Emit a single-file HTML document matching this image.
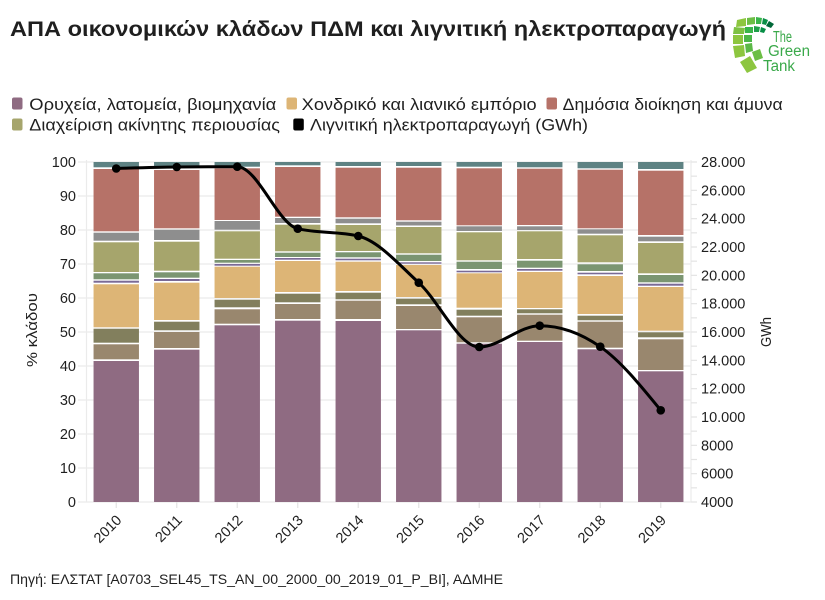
<!DOCTYPE html>
<html>
<head>
<meta charset="utf-8">
<style>
html,body{margin:0;padding:0;background:#fff;}
svg{display:block;}
text{font-family:"Liberation Sans","DejaVu Sans",sans-serif;fill:#1f1f1f;}
.teal{fill:#5e8283}.red{fill:#b67268}.gray{fill:#8e8e8e}.olive{fill:#a6a56c}.green{fill:#7b9571}
.pthin{fill:#7a6a96}.orange{fill:#ddb576}.dolive{fill:#827f5d}.bgray{fill:#99876e}.purple{fill:#8f6b82}
.tl{font-size:14.5px;}
</style>
</head>
<body>
<svg width="825" height="600" viewBox="0 0 825 600" xmlns="http://www.w3.org/2000/svg">
<rect width="825" height="600" fill="#fff"/>

<!-- Title -->
<text x="10" y="36" font-size="21" font-weight="bold" textLength="716" lengthAdjust="spacingAndGlyphs">ΑΠΑ οικονομικών κλάδων ΠΔΜ και λιγνιτική ηλεκτροπαραγωγή</text>

<!-- Logo -->
<g>
<polygon points="740,62 750,56 757,68 747,73" fill="#8dc63f"/>
<polygon points="733,46 744,45 745,56 735,58" fill="#8dc63f"/>
<polygon points="733,35 743,35 743,44 733,44" fill="#8dc63f"/>
<polygon points="734,27 745,28 744,34 733,34" fill="#7dc142"/>
<polygon points="737,20 746,18 746,26 736,27" fill="#8dc63f"/>
<polygon points="747,18 755,17 755,24 747,25" fill="#6cbe45"/>
<polygon points="756,17 762,18 761,24 756,24" fill="#39b54a"/>
<polygon points="763,18 768,20 766,25 762,24" fill="#0a8f46"/>
<polygon points="769,21 774,24 771,28 766,26" fill="#006838"/>
<polygon points="752,52 760,49 763,58 755,61" fill="#6cbe45"/>
<polygon points="745,44 752,43 753,51 746,53" fill="#5cb947"/>
<polygon points="744,35 752,35 752,42 744,42" fill="#4cb748"/>
<polygon points="745,27 753,27 753,33 745,33" fill="#39b54a"/>
<polygon points="754,26 760,27 759,32 754,32" fill="#1fa049"/>
<polygon points="761,27 766,29 764,33 760,32" fill="#068e45"/>
<text x="773" y="42" font-size="15.5" style="fill:#3aa94a" textLength="19" lengthAdjust="spacingAndGlyphs">The</text>
<text x="768" y="56" font-size="15.5" style="fill:#3aa94a" textLength="42" lengthAdjust="spacingAndGlyphs">Green</text>
<text x="763" y="71" font-size="15.5" style="fill:#3aa94a" textLength="32" lengthAdjust="spacingAndGlyphs">Tank</text>
</g>

<!-- Legend -->
<g font-size="16.5">
<rect x="12" y="97.5" width="10.5" height="12" rx="2" class="purple"/>
<text x="29.3" y="110" textLength="247" lengthAdjust="spacingAndGlyphs">Ορυχεία, λατομεία, βιομηχανία</text>
<rect x="286.5" y="97.5" width="10.5" height="12" rx="2" class="orange"/>
<text x="301.7" y="110" textLength="235" lengthAdjust="spacingAndGlyphs">Χονδρικό και λιανικό εμπόριο</text>
<rect x="546.5" y="97.5" width="10.5" height="12" rx="2" class="red"/>
<text x="562.7" y="110" textLength="220" lengthAdjust="spacingAndGlyphs">Δημόσια διοίκηση και άμυνα</text>
<rect x="12" y="118.5" width="10.5" height="12" rx="2" class="olive"/>
<text x="29.3" y="130.5" textLength="250.7" lengthAdjust="spacingAndGlyphs">Διαχείριση ακίνητης περιουσίας</text>
<rect x="293.3" y="118.5" width="10.5" height="12" rx="2" fill="#000"/>
<text x="310" y="130.5" textLength="278" lengthAdjust="spacingAndGlyphs">Λιγνιτική ηλεκτροπαραγωγή (GWh)</text>
</g>

<!-- Gridlines -->
<g stroke="#ebebeb" stroke-width="1.2">
<line x1="78" y1="502" x2="691" y2="502"/>
<line x1="78" y1="468" x2="691" y2="468"/>
<line x1="78" y1="434" x2="691" y2="434"/>
<line x1="78" y1="400" x2="691" y2="400"/>
<line x1="78" y1="366" x2="691" y2="366"/>
<line x1="78" y1="332" x2="691" y2="332"/>
<line x1="78" y1="298" x2="691" y2="298"/>
<line x1="78" y1="264" x2="691" y2="264"/>
<line x1="78" y1="230" x2="691" y2="230"/>
<line x1="78" y1="196" x2="691" y2="196"/>
<line x1="78" y1="162" x2="691" y2="162"/>
<line x1="86.5" y1="160" x2="86.5" y2="502"/>
<line x1="691" y1="160" x2="691" y2="502"/>
</g>
<!-- right ticks -->
<g stroke="#e3e3e3" stroke-width="1.2">
<line x1="691" y1="162" x2="697" y2="162"/><line x1="691" y1="176.17" x2="697" y2="176.17"/>
<line x1="691" y1="190.33" x2="697" y2="190.33"/><line x1="691" y1="204.5" x2="697" y2="204.5"/>
<line x1="691" y1="218.67" x2="697" y2="218.67"/><line x1="691" y1="232.83" x2="697" y2="232.83"/>
<line x1="691" y1="247" x2="697" y2="247"/><line x1="691" y1="261.17" x2="697" y2="261.17"/>
<line x1="691" y1="275.33" x2="697" y2="275.33"/><line x1="691" y1="289.5" x2="697" y2="289.5"/>
<line x1="691" y1="303.67" x2="697" y2="303.67"/><line x1="691" y1="317.83" x2="697" y2="317.83"/>
<line x1="691" y1="332" x2="697" y2="332"/><line x1="691" y1="346.17" x2="697" y2="346.17"/>
<line x1="691" y1="360.33" x2="697" y2="360.33"/><line x1="691" y1="374.5" x2="697" y2="374.5"/>
<line x1="691" y1="388.67" x2="697" y2="388.67"/><line x1="691" y1="402.83" x2="697" y2="402.83"/>
<line x1="691" y1="417" x2="697" y2="417"/><line x1="691" y1="431.17" x2="697" y2="431.17"/>
<line x1="691" y1="445.33" x2="697" y2="445.33"/><line x1="691" y1="459.5" x2="697" y2="459.5"/>
<line x1="691" y1="473.67" x2="697" y2="473.67"/><line x1="691" y1="487.83" x2="697" y2="487.83"/>
<line x1="691" y1="502" x2="697" y2="502"/>
<!-- bottom ticks -->
<line x1="116.25" y1="502" x2="116.25" y2="508"/><line x1="176.75" y1="502" x2="176.75" y2="508"/>
<line x1="237.25" y1="502" x2="237.25" y2="508"/><line x1="297.75" y1="502" x2="297.75" y2="508"/>
<line x1="358.25" y1="502" x2="358.25" y2="508"/><line x1="418.75" y1="502" x2="418.75" y2="508"/>
<line x1="479.25" y1="502" x2="479.25" y2="508"/><line x1="539.75" y1="502" x2="539.75" y2="508"/>
<line x1="600.25" y1="502" x2="600.25" y2="508"/><line x1="660.75" y1="502" x2="660.75" y2="508"/>
</g>

<!-- Bars -->
<g transform="translate(93.55,0)">
<rect class="teal" y="162" width="45.4" height="5.3"/><rect class="red" y="169" width="45.4" height="62.3"/>
<rect class="gray" y="232.7" width="45.4" height="8"/><rect class="olive" y="242.3" width="45.4" height="29.7"/>
<rect class="green" y="273.3" width="45.4" height="6"/><rect class="pthin" y="280.7" width="45.4" height="2"/>
<rect class="orange" y="284.3" width="45.4" height="43"/><rect class="dolive" y="328.7" width="45.4" height="14"/>
<rect class="bgray" y="344.3" width="45.4" height="15"/><rect class="purple" y="361" width="45.4" height="141"/>
</g>
<g transform="translate(154.05,0)">
<rect class="teal" y="162" width="45.4" height="5.3"/><rect class="red" y="170" width="45.4" height="58.3"/>
<rect class="gray" y="229.7" width="45.4" height="10.3"/><rect class="olive" y="241.7" width="45.4" height="29"/>
<rect class="green" y="272.3" width="45.4" height="5.4"/><rect class="pthin" y="279" width="45.4" height="2"/>
<rect class="orange" y="282.7" width="45.4" height="37.3"/><rect class="dolive" y="321.7" width="45.4" height="8.6"/>
<rect class="bgray" y="332" width="45.4" height="16"/><rect class="purple" y="349.7" width="45.4" height="152.3"/>
</g>
<g transform="translate(214.55,0)">
<rect class="teal" y="162" width="45.4" height="4.7"/><rect class="red" y="168.3" width="45.4" height="51.7"/>
<rect class="gray" y="221" width="45.4" height="8.7"/><rect class="olive" y="231.3" width="45.4" height="27.4"/>
<rect class="green" y="260" width="45.4" height="2.7"/><rect class="pthin" y="264" width="45.4" height="1.7"/>
<rect class="orange" y="266.7" width="45.4" height="31.3"/><rect class="dolive" y="299.7" width="45.4" height="7.6"/>
<rect class="bgray" y="309.3" width="45.4" height="14.4"/><rect class="purple" y="325.3" width="45.4" height="176.7"/>
</g>
<g transform="translate(275.05,0)">
<rect class="teal" y="162" width="45.4" height="3.3"/><rect class="red" y="167" width="45.4" height="49.7"/>
<rect class="gray" y="218" width="45.4" height="5"/><rect class="olive" y="224.7" width="45.4" height="26.6"/>
<rect class="green" y="252.7" width="45.4" height="4.3"/><rect class="pthin" y="258" width="45.4" height="1.7"/>
<rect class="orange" y="261" width="45.4" height="31"/><rect class="dolive" y="293.7" width="45.4" height="8.6"/>
<rect class="bgray" y="304" width="45.4" height="15"/><rect class="purple" y="320.7" width="45.4" height="181.3"/>
</g>
<g transform="translate(335.55,0)">
<rect class="teal" y="162" width="45.4" height="4"/><rect class="red" y="167.7" width="45.4" height="49.6"/>
<rect class="gray" y="218.7" width="45.4" height="4.6"/><rect class="olive" y="225" width="45.4" height="26"/>
<rect class="green" y="252.3" width="45.4" height="5"/><rect class="pthin" y="258.7" width="45.4" height="1.6"/>
<rect class="orange" y="261.7" width="45.4" height="29.3"/><rect class="dolive" y="292.7" width="45.4" height="6.6"/>
<rect class="bgray" y="300.7" width="45.4" height="18.3"/><rect class="purple" y="321" width="45.4" height="181"/>
</g>
<g transform="translate(396.05,0)">
<rect class="teal" y="162" width="45.4" height="4"/><rect class="red" y="167.7" width="45.4" height="52.6"/>
<rect class="gray" y="221.7" width="45.4" height="3.8"/><rect class="olive" y="227" width="45.4" height="26.3"/>
<rect class="green" y="254.7" width="45.4" height="6.3"/><rect class="pthin" y="262.3" width="45.4" height="1.4"/>
<rect class="orange" y="265" width="45.4" height="32"/><rect class="dolive" y="298.7" width="45.4" height="5.6"/>
<rect class="bgray" y="306" width="45.4" height="23"/><rect class="purple" y="330.3" width="45.4" height="171.7"/>
</g>
<g transform="translate(456.55,0)">
<rect class="teal" y="162" width="45.4" height="4.7"/><rect class="red" y="168.3" width="45.4" height="57"/>
<rect class="gray" y="226.3" width="45.4" height="4.7"/><rect class="olive" y="232.3" width="45.4" height="28"/>
<rect class="green" y="261.7" width="45.4" height="7.3"/><rect class="pthin" y="270.7" width="45.4" height="1.6"/>
<rect class="orange" y="273.3" width="45.4" height="34.4"/><rect class="dolive" y="309.7" width="45.4" height="6"/>
<rect class="bgray" y="317.3" width="45.4" height="25"/><rect class="purple" y="343.7" width="45.4" height="158.3"/>
</g>
<g transform="translate(517.05,0)">
<rect class="teal" y="162" width="45.4" height="5.3"/><rect class="red" y="168.7" width="45.4" height="56.3"/>
<rect class="gray" y="226.3" width="45.4" height="3.7"/><rect class="olive" y="231.3" width="45.4" height="27.7"/>
<rect class="green" y="260.7" width="45.4" height="7"/><rect class="pthin" y="269" width="45.4" height="1.7"/>
<rect class="orange" y="272" width="45.4" height="36"/><rect class="dolive" y="309.3" width="45.4" height="4"/>
<rect class="bgray" y="314.7" width="45.4" height="26"/><rect class="purple" y="342" width="45.4" height="160"/>
</g>
<g transform="translate(577.55,0)">
<rect class="teal" y="162" width="45.4" height="6.3"/><rect class="red" y="169.7" width="45.4" height="58.6"/>
<rect class="gray" y="229.3" width="45.4" height="4.4"/><rect class="olive" y="235.3" width="45.4" height="27"/>
<rect class="green" y="264.3" width="45.4" height="6.7"/><rect class="pthin" y="272.7" width="45.4" height="1.6"/>
<rect class="orange" y="276" width="45.4" height="38"/><rect class="dolive" y="315.7" width="45.4" height="4.6"/>
<rect class="bgray" y="321.7" width="45.4" height="26"/><rect class="purple" y="349.3" width="45.4" height="152.7"/>
</g>
<g transform="translate(638.05,0)">
<rect class="teal" y="162" width="45.4" height="7"/><rect class="red" y="170.7" width="45.4" height="64.3"/>
<rect class="gray" y="236.7" width="45.4" height="4.6"/><rect class="olive" y="243" width="45.4" height="30.3"/>
<rect class="green" y="275" width="45.4" height="7.3"/><rect class="pthin" y="283.7" width="45.4" height="2"/>
<rect class="orange" y="287" width="45.4" height="43.7"/><rect class="dolive" y="332.3" width="45.4" height="5"/>
<rect class="bgray" y="339.3" width="45.4" height="30.7"/><rect class="purple" y="371.3" width="45.4" height="130.7"/>
</g>

<!-- Line -->
<path d="M116.25,168.5 C136.42,167.85 156.58,167.2 176.75,167 C196.92,166.8 217.08,166.7 237.25,166.7 C257.42,166.7 277.58,223.83 297.75,228.7 C317.92,233.57 338.08,231.13 358.25,236 C378.42,240.87 398.58,264.2 418.75,282.7 C438.92,301.2 459.08,347 479.25,347 C499.42,347 519.58,325.7 539.75,325.7 C559.92,325.7 580.08,332.7 600.25,346.7 C620.42,360.7 640.58,385.5 660.75,410.3" fill="none" stroke="#000" stroke-width="3"/>
<g fill="#000">
<circle cx="116.25" cy="168.5" r="4.3"/><circle cx="176.75" cy="167" r="4.3"/>
<circle cx="237.25" cy="166.7" r="4.3"/><circle cx="297.75" cy="228.7" r="4.3"/>
<circle cx="358.25" cy="236" r="4.3"/><circle cx="418.75" cy="282.7" r="4.3"/>
<circle cx="479.25" cy="347" r="4.3"/><circle cx="539.75" cy="325.7" r="4.3"/>
<circle cx="600.25" cy="346.7" r="4.3"/><circle cx="660.75" cy="410.3" r="4.3"/>
</g>

<!-- Left axis labels -->
<g class="tl" text-anchor="end">
<text x="76" y="507">0</text><text x="76" y="473">10</text><text x="76" y="439">20</text>
<text x="76" y="405">30</text><text x="76" y="371">40</text><text x="76" y="337">50</text>
<text x="76" y="303">60</text><text x="76" y="269">70</text><text x="76" y="235">80</text>
<text x="76" y="201">90</text><text x="76" y="167">100</text>
</g>
<!-- Right axis labels -->
<g class="tl">
<text x="701" y="167">28.000</text><text x="701" y="195.33">26.000</text>
<text x="701" y="223.67">24.000</text><text x="701" y="252">22.000</text>
<text x="701" y="280.33">20.000</text><text x="701" y="308.67">18.000</text>
<text x="701" y="337">16.000</text><text x="701" y="365.33">14.000</text>
<text x="701" y="393.67">12.000</text><text x="701" y="422">10.000</text>
<text x="701" y="450.33">8000</text><text x="701" y="478.67">6000</text>
<text x="701" y="507">4000</text>
</g>

<!-- Axis titles -->
<text transform="translate(37,330) rotate(-90)" font-size="15" text-anchor="middle" textLength="74" lengthAdjust="spacingAndGlyphs">% κλάδου</text>
<text transform="translate(771,332) rotate(-90)" font-size="15" text-anchor="middle" textLength="30" lengthAdjust="spacingAndGlyphs">GWh</text>

<!-- X labels -->
<g class="tl" text-anchor="end">
<text transform="translate(122.5,521) rotate(-45)">2010</text>
<text transform="translate(183,521) rotate(-45)">2011</text>
<text transform="translate(243.5,521) rotate(-45)">2012</text>
<text transform="translate(304,521) rotate(-45)">2013</text>
<text transform="translate(364.5,521) rotate(-45)">2014</text>
<text transform="translate(425,521) rotate(-45)">2015</text>
<text transform="translate(485.5,521) rotate(-45)">2016</text>
<text transform="translate(546,521) rotate(-45)">2017</text>
<text transform="translate(606.5,521) rotate(-45)">2018</text>
<text transform="translate(667,521) rotate(-45)">2019</text>
</g>

<!-- Source -->
<text x="10" y="584" font-size="13.5" textLength="493" lengthAdjust="spacingAndGlyphs">Πηγή: ΕΛΣΤΑΤ [A0703_SEL45_TS_AN_00_2000_00_2019_01_P_BI], ΑΔΜΗΕ</text>
</svg>
</body>
</html>
